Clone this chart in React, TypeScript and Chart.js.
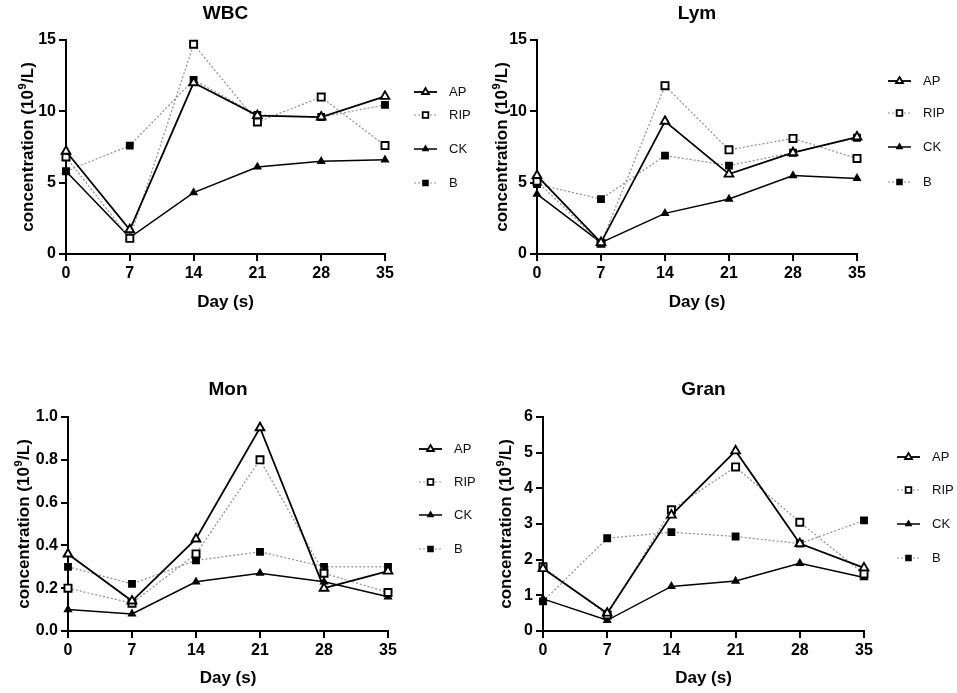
import { useEffect, useRef } from "react";
import { Chart, registerables } from "chart.js";

Chart.register(...registerables);

// sampling days and groups
const days = ["0", "7", "14", "21", "28", "35"];
const groups = ["AP", "RIP", "CK", "B"];

// WBC
const wbcAP = [7.2, 1.7, 12.0, 9.7, 9.6, 11.05];
const wbcRIP = [6.8, 1.1, 14.7, 9.25, 11.0, 7.6];
const wbcCK = [5.8, 1.15, 4.3, 6.1, 6.5, 6.6];
const wbcB = [5.8, 7.6, 12.2, 9.75, 9.6, 10.45];
const wbcTicks = [0, 5, 10, 15];

// Lym
const lymAP = [5.5, 0.8, 9.3, 5.6, 7.1, 8.2];
const lymRIP = [5.1, 0.75, 11.8, 7.3, 8.1, 6.7];
const lymCK = [4.2, 0.8, 2.85, 3.85, 5.5, 5.3];
const lymB = [4.9, 3.85, 6.9, 6.2, 7.1, 8.15];
const lymTicks = [0, 5, 10, 15];

// Mon
const monAP = [0.36, 0.14, 0.43, 0.95, 0.2, 0.28];
const monRIP = [0.2, 0.13, 0.36, 0.8, 0.27, 0.18];
const monCK = [0.1, 0.08, 0.23, 0.27, 0.23, 0.16];
const monB = [0.3, 0.22, 0.33, 0.37, 0.3, 0.3];
const monTicks = [0, 0.2, 0.4, 0.6, 0.8, 1.0];

// Gran
const granAP = [1.75, 0.5, 3.25, 5.05, 2.45, 1.77];
const granRIP = [1.8, 0.45, 3.4, 4.6, 3.05, 1.6];
const granCK = [0.9, 0.3, 1.25, 1.4, 1.9, 1.5];
const granB = [0.83, 2.6, 2.77, 2.65, 2.45, 3.1];
const granTicks = [0, 1, 2, 3, 4, 5, 6];

const FONT = "'Liberation Sans', Arial, Helvetica, sans-serif";
// y title is drawn by hand so the 9 can be a real superscript
const Y_TITLE_MAIN = "concentration (10";
const Y_TITLE_SUP = "9";
const Y_TITLE_END = "/L)";
const X_TITLE = "Day (s)";

type Marker = { shape: "triangle" | "rect"; radius: number; fill: string };
type SeriesStyle = { color: string; width: number; dash: number[]; marker: Marker };

const seriesStyles: SeriesStyle[] = [
  { color: "#000", width: 1.8, dash: [], marker: { shape: "triangle", radius: 5, fill: "#fff" } },
  { color: "#8f8f8f", width: 1.2, dash: [2, 2], marker: { shape: "rect", radius: 5, fill: "#fff" } },
  { color: "#000", width: 1.5, dash: [], marker: { shape: "triangle", radius: 3.4, fill: "#000" } },
  { color: "#8f8f8f", width: 1.2, dash: [2, 2], marker: { shape: "rect", radius: 4.2, fill: "#000" } },
];

type PanelDef = {
  title: string;
  series: number[][];
  ticks: number[];
  decimals: number;
  box: { left: number; top: number; width: number; height: number };
  area: { left: number; right: number; top: number; bottom: number };
  titleY: number;
  xTitleY: number;
  yTitleBase: number;
  legendX: number;
  legendY: number[];
};

const panels: PanelDef[] = [
  {
    title: "WBC",
    series: [wbcAP, wbcRIP, wbcCK, wbcB],
    ticks: wbcTicks,
    decimals: 0,
    box: { left: 0, top: 0, width: 477, height: 330 },
    area: { left: 66, right: 385, top: 40, bottom: 254 },
    titleY: 14,
    xTitleY: 302,
    yTitleBase: 33,
    legendX: 29,
    legendY: [52, 75, 109, 143],
  },
  {
    title: "Lym",
    series: [lymAP, lymRIP, lymCK, lymB],
    ticks: lymTicks,
    decimals: 0,
    box: { left: 477, top: 0, width: 480, height: 330 },
    area: { left: 60, right: 380, top: 40, bottom: 254 },
    titleY: 14,
    xTitleY: 302,
    yTitleBase: 30,
    legendX: 31,
    legendY: [41, 73, 107, 142],
  },
  {
    title: "Mon",
    series: [monAP, monRIP, monCK, monB],
    ticks: monTicks,
    decimals: 1,
    box: { left: 0, top: 340, width: 477, height: 353 },
    area: { left: 68, right: 388, top: 77, bottom: 291 },
    titleY: 50,
    xTitleY: 338,
    yTitleBase: 29,
    legendX: 31,
    legendY: [32, 65, 98, 132],
  },
  {
    title: "Gran",
    series: [granAP, granRIP, granCK, granB],
    ticks: granTicks,
    decimals: 0,
    box: { left: 477, top: 340, width: 480, height: 353 },
    area: { left: 66, right: 387, top: 77, bottom: 291 },
    titleY: 50,
    xTitleY: 338,
    yTitleBase: 34,
    legendX: 33,
    legendY: [40, 73, 107, 141],
  },
];

function drawMarker(ctx: CanvasRenderingContext2D, m: Marker, x: number, y: number, scale: number) {
  const r = m.radius * scale;
  ctx.beginPath();
  if (m.shape === "triangle") {
    ctx.moveTo(x, y - r);
    ctx.lineTo(x + r * 0.866, y + r * 0.5);
    ctx.lineTo(x - r * 0.866, y + r * 0.5);
    ctx.closePath();
  } else {
    const s = r * Math.SQRT1_2;
    ctx.rect(x - s, y - s, 2 * s, 2 * s);
  }
  ctx.fillStyle = m.fill;
  ctx.fill();
  ctx.lineWidth = 1.8;
  ctx.strokeStyle = "#000";
  ctx.stroke();
}

function ChartPanel({ panel }: { panel: PanelDef }) {
  const canvasRef = useRef<HTMLCanvasElement>(null);

  useEffect(() => {
    if (!canvasRef.current) return;
    const { box, area } = panel;
    const axisFont = 17;
    const half = (axisFont * 1.2) / 2;

    const decor = {
      id: "decor",
      afterDraw(chart: Chart) {
        const ctx = chart.ctx;
        const ca = chart.chartArea;
        ctx.save();
        // title
        ctx.fillStyle = "#000";
        ctx.font = `bold 19px ${FONT}`;
        ctx.textAlign = "center";
        ctx.textBaseline = "middle";
        ctx.fillText(panel.title, (ca.left + ca.right) / 2, panel.titleY);

        // y axis title with superscript
        ctx.save();
        ctx.translate(panel.yTitleBase, (ca.top + ca.bottom) / 2);
        ctx.rotate(-Math.PI / 2);
        ctx.textAlign = "left";
        ctx.textBaseline = "alphabetic";
        ctx.font = `bold ${axisFont}px ${FONT}`;
        const w1 = ctx.measureText(Y_TITLE_MAIN).width;
        const w3 = ctx.measureText(Y_TITLE_END).width;
        ctx.font = `bold 11px ${FONT}`;
        const w2 = ctx.measureText(Y_TITLE_SUP).width + 1;
        let tx = -(w1 + w2 + w3) / 2;
        ctx.font = `bold ${axisFont}px ${FONT}`;
        ctx.fillText(Y_TITLE_MAIN, tx, 0);
        tx += w1;
        ctx.font = `bold 11px ${FONT}`;
        ctx.fillText(Y_TITLE_SUP, tx + 0.5, -7);
        tx += w2;
        ctx.font = `bold ${axisFont}px ${FONT}`;
        ctx.fillText(Y_TITLE_END, tx, 0);
        ctx.restore();

        // legend: line + marker + label
        groups.forEach((name, i) => {
          const st = seriesStyles[i];
          const x0 = ca.right + panel.legendX;
          const y = ca.top + panel.legendY[i];
          ctx.beginPath();
          ctx.setLineDash(st.dash);
          ctx.strokeStyle = st.color;
          ctx.lineWidth = st.width;
          ctx.moveTo(x0, y);
          ctx.lineTo(x0 + 23, y);
          ctx.stroke();
          ctx.setLineDash([]);
          drawMarker(ctx, st.marker, x0 + 11.5, y, 0.8);
          ctx.fillStyle = "#111";
          ctx.font = `13px ${FONT}`;
          ctx.textAlign = "left";
          ctx.textBaseline = "middle";
          ctx.fillText(name, x0 + 35, y);
        });
        ctx.restore();
      },
    };

    const chart = new Chart(canvasRef.current, {
      type: "line",
      data: {
        labels: days,
        datasets: panel.series.map((values, i) => {
          const st = seriesStyles[i];
          return {
            label: groups[i],
            data: values,
            borderColor: st.color,
            borderWidth: st.width,
            borderDash: st.dash,
            tension: 0,
            fill: false,
            clip: false,
            pointStyle: st.marker.shape,
            pointRadius: st.marker.radius,
            pointHoverRadius: st.marker.radius,
            pointBackgroundColor: st.marker.fill,
            pointBorderColor: "#000",
            pointBorderWidth: 1.9,
          };
        }),
      },
      options: {
        animation: false,
        responsive: false,
        events: [],
        layout: {
          padding: { left: 0, top: area.top, right: box.width - area.right, bottom: 0 },
        },
        plugins: {
          legend: { display: false },
          title: { display: false },
          tooltip: { enabled: false },
        },
        scales: {
          x: {
            type: "category",
            offset: false,
            grid: {
              display: true,
              drawOnChartArea: false,
              drawTicks: true,
              tickLength: 7,
              color: "#000",
              lineWidth: 2,
            },
            border: { display: true, color: "#000", width: 2 },
            ticks: {
              color: "#000",
              font: { family: FONT, size: 16, weight: "bold" },
              padding: 3,
              maxRotation: 0,
              autoSkip: false,
            },
            title: {
              display: true,
              text: X_TITLE,
              color: "#000",
              font: { family: FONT, size: axisFont, weight: "bold" },
              padding: { top: 0, bottom: box.height - half - panel.xTitleY },
            },
            afterFit: (scale: any) => {
              scale.height = box.height - area.bottom;
            },
          },
          y: {
            type: "linear",
            min: panel.ticks[0],
            max: panel.ticks[panel.ticks.length - 1],
            afterBuildTicks: (scale: any) => {
              scale.ticks = panel.ticks.map((v) => ({ value: v }));
            },
            grid: {
              display: true,
              drawOnChartArea: false,
              drawTicks: true,
              tickLength: 7,
              color: "#000",
              lineWidth: 2,
            },
            border: { display: true, color: "#000", width: 2 },
            ticks: {
              color: "#000",
              font: { family: FONT, size: 16, weight: "bold" },
              padding: 3,
              callback: (v: any) => Number(v).toFixed(panel.decimals),
            },
            title: { display: false },
            afterFit: (scale: any) => {
              scale.width = area.left;
            },
          },
        },
      },
      plugins: [decor],
    });

    return () => chart.destroy();
  }, [panel]);

  return (
    <canvas
      ref={canvasRef}
      width={panel.box.width}
      height={panel.box.height}
      style={{
        position: "absolute",
        left: panel.box.left,
        top: panel.box.top,
        width: panel.box.width,
        height: panel.box.height,
      }}
    />
  );
}

export default function App() {
  return (
    <div
      style={{
        position: "absolute",
        left: 0,
        top: 0,
        width: 957,
        height: 693,
        background: "#fff",
        overflow: "hidden",
      }}
    >
      {panels.map((p) => (
        <ChartPanel key={p.title} panel={p} />
      ))}
    </div>
  );
}
